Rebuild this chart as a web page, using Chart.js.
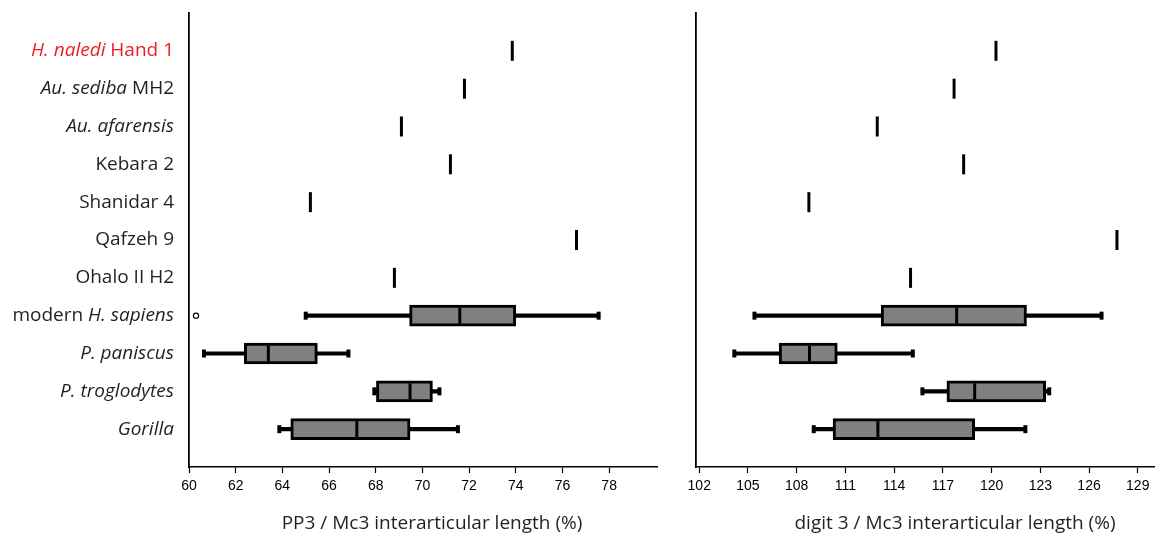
<!DOCTYPE html>
<html>
<head>
<meta charset="utf-8">
<script src="https://cdn.jsdelivr.net/npm/chart.js@4.4.1/dist/chart.umd.min.js"></script>
<style>
  html,body{margin:0;padding:0;background:#fff;}
  #wrap{position:relative;width:1167px;height:537px;overflow:hidden;}
  canvas{position:absolute;top:0;}
  #c1{left:0;}
  #c2{left:680px;}
  .xt{position:absolute;top:509px;font-family:'Open Sans',sans-serif;font-size:19px;line-height:26px;color:#231f20;white-space:nowrap;transform:translateX(-50%);}
</style>
</head>
<body>
<div id="wrap">
  <canvas id="c1" width="680" height="537"></canvas>
  <canvas id="c2" width="487" height="537"></canvas>
  <div class="xt" style="left:432px">PP3 / Mc3 interarticular length (%)</div>
  <div class="xt" style="left:955px">digit 3 / Mc3 interarticular length (%)</div>
</div>
<script>
// ---------- data ----------
const categories = ["H. naledi Hand 1","Au. sediba MH2","Au. afarensis","Kebara 2","Shanidar 4","Qafzeh 9","Ohalo II H2","modern H. sapiens","P. paniscus","P. troglodytes","Gorilla"];
const italicParts = ["H. naledi","Au. sediba","Au. afarensis","","","","","H. sapiens","P. paniscus","P. troglodytes","Gorilla"];

// single specimens (rows 0..6)
const pp3Specimens   = [73.85, 71.8, 69.1, 71.2, 65.2, 76.6, 68.8];
const digitSpecimens = [120.27, 117.69, 112.96, 118.28, 108.75, 127.72, 115.01];

// samples (rows 7..10): [min, q1, median, q3, max]
const boxRows = [7, 8, 9, 10];
const pp3Boxes = [
  [65.0, 69.45, 71.6, 74.0, 77.55],
  [60.64, 62.37, 63.4, 65.5, 66.83],
  [67.94, 68.03, 69.47, 70.43, 70.73],
  [63.87, 64.36, 67.19, 69.47, 71.52]
];
const digitBoxes = [
  [105.4, 113.2, 117.85, 122.15, 126.77],
  [104.16, 106.92, 108.79, 110.5, 115.15],
  [115.74, 117.25, 118.96, 123.33, 123.55],
  [109.05, 110.24, 113.0, 118.96, 122.08]
];
const pp3Outliers = [{row: 7, value: 60.3}];
const digitOutliers = [];

const pp3Ticks = [60, 62, 64, 66, 68, 70, 72, 74, 76, 78];
const digitTicks = [102, 105, 108, 111, 114, 117, 120, 123, 126, 129];

// ---------- plugins ----------
const yLabels = {
  id: "yLabels",
  afterDraw(chart){
    const ys = chart.scales.y, ctx = chart.ctx;
    const xr = chart.chartArea.left - 15;
    ctx.save();
    ctx.textBaseline = "middle";
    categories.forEach((name, i) => {
      const it = italicParts[i];
      const k = it ? name.indexOf(it) : -1;
      let segs = k < 0 ? [[name, false]] :
        [[name.slice(0, k), false], [it, true], [name.slice(k + it.length), false]];
      segs = segs.filter(s => s[0].length);
      const fontOf = s => (s[1] ? "italic " : "") + "19px 'Open Sans'";
      let total = 0;
      segs.forEach(s => { ctx.font = fontOf(s); total += ctx.measureText(s[0]).width; });
      let x = xr - total;
      const y = ys.getPixelForValue(i);
      ctx.fillStyle = i === 0 ? "#ed1c24" : "#231f20";
      segs.forEach(s => {
        ctx.font = fontOf(s);
        ctx.textAlign = "left";
        ctx.fillText(s[0], x, y);
        x += ctx.measureText(s[0]).width;
      });
    });
    ctx.restore();
  }
};

function panel(id, specimens, boxes, outliers, xMin, xMax, ticks, yWidth, padRight, withLabels){
  const datasets = [
    { // whiskers
      type: "bar", indexAxis: "y", grouped: false, order: 5,
      data: boxes.map((b, k) => ({ y: boxRows[k], x: [b[0], b[4]] })),
      backgroundColor: "#000", barThickness: 3.5
    },
    { // whisker caps
      type: "scatter", order: 4,
      data: boxes.flatMap((b, k) => [{ x: b[0], y: boxRows[k] }, { x: b[4], y: boxRows[k] }]),
      pointStyle: "line", rotation: 90, radius: 4, borderWidth: 4, borderColor: "#000"
    },
    { // boxes
      type: "bar", indexAxis: "y", grouped: false, order: 3,
      data: boxes.map((b, k) => ({ y: boxRows[k], x: [b[1], b[3]] })),
      backgroundColor: "#808080", borderColor: "#000", borderWidth: 3, borderSkipped: false, barThickness: 21
    },
    { // medians
      type: "scatter", order: 1,
      data: boxes.map((b, k) => ({ x: b[2], y: boxRows[k] })),
      pointStyle: "line", rotation: 90, radius: 8, borderWidth: 3, borderColor: "#000"
    },
    { // single specimens
      type: "scatter", order: 1,
      data: specimens.map((v, i) => ({ x: v, y: i })),
      pointStyle: "line", rotation: 90, radius: 10, borderWidth: 3, borderColor: "#000"
    },
    { // outliers
      type: "scatter", order: 0,
      data: outliers.map(o => ({ x: o.value, y: o.row })),
      pointStyle: "circle", radius: 2.6, borderWidth: 1.2, borderColor: "#000", backgroundColor: "#fff"
    }
  ];
  return new Chart(document.getElementById(id), {
    type: "scatter",
    data: { datasets },
    options: {
      responsive: false, animation: false,
      layout: { padding: { top: 10, right: padRight, left: 0, bottom: 0 } },
      plugins: { legend: { display: false }, tooltip: { enabled: false } },
      events: [],
      scales: {
        x: {
          type: "linear", min: xMin, max: xMax, offset: false,
          afterBuildTicks: s => { s.ticks = ticks.map(v => ({ value: v })); },
          afterFit: s => { s.height = 70; },
          border: { display: true, color: "#000", width: 1.6 },
          grid: { offset: false, drawOnChartArea: false, drawTicks: true, tickLength: 6, color: "#000", tickWidth: 1.2 },
          ticks: { padding: 5, color: "#000", font: { family: "'Liberation Sans'", size: 14 }, maxRotation: 0, autoSkip: false }
        },
        y: {
          type: "linear", min: -1, max: 11, reverse: true, offset: false,
          afterFit: s => { s.width = yWidth; },
          border: { display: true, color: "#000", width: 1.8 },
          grid: { display: false, offset: false },
          ticks: { display: false }
        }
      }
    },
    plugins: withLabels ? [yLabels] : []
  });
}

panel("c1", pp3Specimens, pp3Boxes, pp3Outliers, 60, 80.05, pp3Ticks, 189, 23, true);
panel("c2", digitSpecimens, digitBoxes, digitOutliers, 101.8, 130.0, digitTicks, 16, 4, false);
</script>
</body>
</html>
